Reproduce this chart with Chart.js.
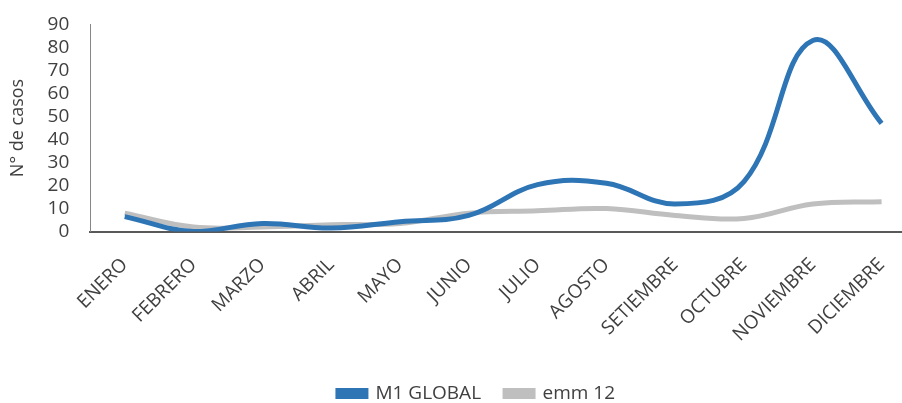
<!DOCTYPE html>
<html>
<head>
<meta charset="utf-8">
<script src="https://cdn.jsdelivr.net/npm/chart.js@4"></script>
<style>
  html, body { margin: 0; padding: 0; overflow: hidden; background: #fff; }
  #wrap { width: 916px; height: 413px; }
</style>
</head>
<body>
<div id="wrap"><canvas id="myChart"></canvas></div>
<script>
// months on the x axis
const meses = ['ENERO', 'FEBRERO', 'MARZO', 'ABRIL', 'MAYO', 'JUNIO', 'JULIO',
  'AGOSTO', 'SETIEMBRE', 'OCTUBRE', 'NOVIEMBRE', 'DICIEMBRE'];
// series
const m1Global = [6.5, 0, 3.5, 1.5, 4.3, 7, 20.4, 21, 12, 21.7, 83, 47];
const emm12 = [8, 2, 2, 3, 3.5, 8, 9, 10, 7, 5.7, 12, 13];
const yTicks = { min: 0, max: 90, step: 10 };

let ctx = document.getElementById('myChart').getContext('2d');
const txt = '#404040';

// nudge the legend a bit to the right, like the original
const legendShift = {
  id: 'legendShift',
  afterLayout(chart) {
    if (chart.legend) {
      chart.legend.left += 18;
      chart.legend.right += 18;
    }
  }
};

window.chart = new Chart(ctx, {
  type: 'line',
  data: {
    labels: meses,
    datasets: [{
      label: 'M1 GLOBAL',
      data: m1Global,
      borderColor: '#2E75B6',
      backgroundColor: '#2E75B6',
      borderWidth: 5,
      tension: 0.4,
      pointRadius: 0,
      fill: false
    }, {
      label: 'emm 12',
      data: emm12,
      borderColor: '#BFBFBF',
      backgroundColor: '#BFBFBF',
      borderWidth: 5,
      tension: 0.4,
      pointRadius: 0,
      fill: false
    }]
  },
  plugins: [legendShift],
  options: {
    responsive: true,
    maintainAspectRatio: false,
    animation: false,
    layout: { padding: { top: 12, left: 1, right: 0, bottom: 0 } },
    plugins: {
      tooltip: { enabled: false },
      legend: {
        position: 'bottom',
        labels: {
          boxWidth: 28,
          boxHeight: 6,
          padding: 24,
          color: txt,
          font: { family: 'Open Sans', size: 19 }
        }
      }
    },
    scales: {
      x: {
        offset: true,
        grid: { display: false },
        border: { display: true, color: '#595959', width: 2 },
        ticks: {
          color: txt,
          minRotation: 45,
          maxRotation: 45,
          padding: 14,
          font: { family: 'Open Sans', size: 19 }
        }
      },
      y: {
        min: yTicks.min,
        max: yTicks.max,
        grid: { display: false },
        border: { display: true, color: '#868686', width: 1 },
        ticks: {
          stepSize: yTicks.step,
          autoSkip: false,
          color: txt,
          padding: 13,
          font: { family: 'Open Sans', size: 19 }
        },
        title: {
          display: true,
          text: 'N° de casos',
          color: txt,
          padding: 6,
          font: { family: 'Open Sans', size: 18 }
        }
      }
    }
  }
});
</script>
</body>
</html>
